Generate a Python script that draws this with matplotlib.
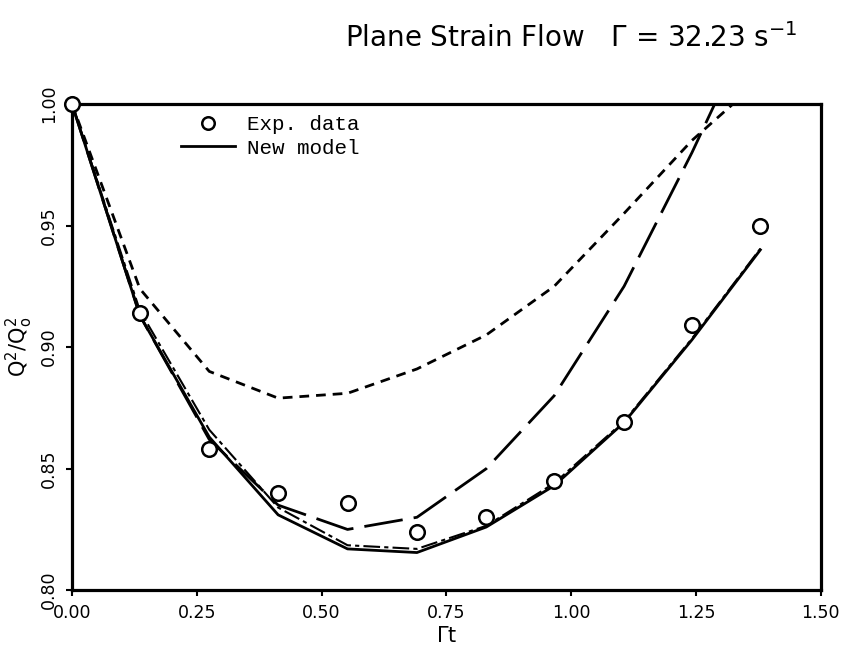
import matplotlib
matplotlib.use("Agg")
from matplotlib import pyplot as plt
from matplotlib.lines import Line2D

# Γt values where the data were taken
gt = [0.0, 0.136, 0.275, 0.413, 0.552, 0.691, 0.830, 0.966, 1.106, 1.242, 1.379]

# measured Q^2/Q0^2
exp_data = [1.0, 0.914, 0.858, 0.840, 0.836, 0.824, 0.830, 0.845, 0.869, 0.909, 0.950]

# model curves
new_model = [1.0, 0.913, 0.863, 0.831, 0.817, 0.8155, 0.826, 0.843, 0.869, 0.903, 0.940]
model_dashdot = [1.0, 0.915, 0.866, 0.834, 0.8185, 0.817, 0.8265, 0.844, 0.8695, 0.9035, 0.9405]
model_longdash = [1.0, 0.913, 0.862, 0.835, 0.825, 0.830, 0.850, 0.880, 0.925, 0.980, 1.040]
model_shortdash = [1.0, 0.924, 0.890, 0.879, 0.881, 0.891, 0.905, 0.925, 0.955, 0.985, 1.010]

xticks = [0.0, 0.25, 0.50, 0.75, 1.00, 1.25, 1.50]
yticks = [0.80, 0.85, 0.90, 0.95, 1.00]

fig = plt.figure(figsize=(8.47, 6.58), dpi=100)
ax = fig.add_axes([0.085, 0.103, 0.884, 0.739])

lw = 2.0
ax.plot(gt, model_shortdash, color='black', lw=lw, linestyle=(0, (3.5, 2.5)))
ax.plot(gt, model_longdash, color='black', lw=lw, linestyle=(0, (14, 4)))
ax.plot(gt, model_dashdot, color='black', lw=1.5, linestyle=(0, (8, 2, 2, 2)))
ax.plot(gt, new_model, color='black', lw=lw)
ax.plot(gt, exp_data, linestyle='none', marker='o', markersize=10.5,
        markerfacecolor='white', markeredgecolor='black', markeredgewidth=1.8,
        clip_on=False, zorder=5)

ax.set_xlim(0, 1.5)
ax.set_ylim(0.80, 1.00)
ax.set_xticks(xticks)
ax.set_yticks(yticks)
ax.set_xticklabels(['%.2f' % v for v in xticks])
ax.set_yticklabels(['%.2f' % v for v in yticks], rotation=90, va='center')
ax.tick_params(direction='out', length=4, width=1.5, labelsize=12.5, pad=6)

for s in ax.spines.values():
    s.set_linewidth(2.3)

ax.set_xlabel(r'$\Gamma$t', fontsize=15, labelpad=3)
ax.set_ylabel(r'$\mathrm{Q^2/Q_o^2}$', fontsize=15, labelpad=4)

# legend written by hand, typewriter style like the original
mono = 'Liberation Mono'
handles = [Line2D([], [], linestyle='none', marker='o', markersize=9,
                  markerfacecolor='white', markeredgecolor='black', markeredgewidth=1.8),
           Line2D([], [], color='black', lw=lw)]
leg = ax.legend(handles, ['Exp. data', 'New model'], loc='upper left',
                bbox_to_anchor=(0.12, 1.015), frameon=False, handlelength=2.6,
                handletextpad=0.6, labelspacing=0.2, prop={'family': mono, 'size': 15})

fig.text(0.674, 0.942, r'Plane Strain Flow   $\Gamma$ = 32.23 s$^{-1}$',
         ha='center', va='center', fontsize=20)

plt.savefig('out.png', dpi=100)
